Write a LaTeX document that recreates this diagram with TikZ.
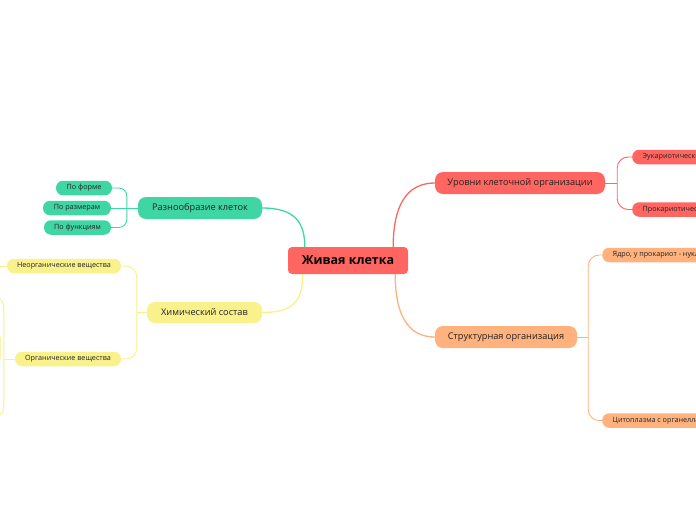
\documentclass[tikz,border=0pt]{standalone}
\usepackage{fontspec}
\setmainfont{Open Sans}
\usetikzlibrary{calc}
\definecolor{cred}{HTML}{FF6662}
\definecolor{cora}{HTML}{FFB27E}
\definecolor{cgrn}{HTML}{40D6A3}
\definecolor{cyel}{HTML}{F9F18C}
\definecolor{ctxt}{HTML}{222222}
\tikzset{
  central/.style={rectangle, rounded corners=4pt, fill=cred, minimum width=120pt, minimum height=27pt,
    inner sep=0pt, text=black, font=\fontsize{12.5}{14}\selectfont\bfseries},
  mainnode/.style={rectangle, rounded corners=8pt, minimum height=22pt, inner sep=0pt,
    text=ctxt, font=\fontsize{9.2}{11}\selectfont},
  subnode/.style={rectangle, rounded corners=7pt, minimum height=14.5pt, inner sep=0pt,
    text=ctxt, font=\fontsize{7.2}{8}\selectfont},
  cutnode/.style={subnode, anchor=west, inner xsep=10.5pt},
  mainline/.style={line width=1.3pt},
  subline/.style={line width=0.9pt, rounded corners=11pt},
}
\begin{document}
\begin{tikzpicture}[x=1pt,y=-1pt]
\useasboundingbox (0,0) rectangle (696,520);
\fill[white] (0,0) rectangle (696,520);
\clip (0,0) rectangle (696,520);

% nodes
\node[central] (c) at (348,260.5) {Живая клетка};
\node[mainnode, fill=cred, minimum width=170pt] (u) at (520,183) {Уровни клеточной организации};
\node[mainnode, fill=cora, minimum width=142pt] (s) at (506,337) {Структурная организация};
\node[mainnode, fill=cgrn, minimum width=124pt] (r) at (200,208) {Разнообразие клеток};
\node[mainnode, fill=cyel, minimum width=115pt, minimum height=21pt] (h) at (204.5,312.5) {Химический состав};

\node[subnode, fill=cgrn, minimum width=56pt] (f1) at (84,188) {По форме};
\node[subnode, fill=cgrn, minimum width=68pt] (f2) at (77,208) {По размерам};
\node[subnode, fill=cgrn, minimum width=67pt] (f3) at (77.5,227.5) {По функциям};

\node[subnode, fill=cyel, minimum width=114pt] (n1) at (64,266) {Неорганические вещества};
\node[subnode, fill=cyel, minimum width=106pt] (n2) at (68,359) {Органические вещества};

\node[cutnode, fill=cred] (e1) at (632,157) {Эукариотические};
\node[cutnode, fill=cred] (e2) at (632,209.5) {Прокариотические};
\node[cutnode, fill=cora] (y1) at (602,255) {Ядро, у прокариот - нуклеоид};
\node[cutnode, fill=cora] (y2) at (602,420.5) {Цитоплазма с органеллами};

\coordinate (o1) at (-12,296);
\coordinate (o2) at (-12,418);
\coordinate (o3) at (-12,330);

% main connectors
\draw[mainline, cgrn] (r.east) .. controls ($(r.east)+(32,0)$) and ($(c.north west)+(17,-25)$) .. ($(c.north west)+(17,0)$);
\draw[mainline, cyel] ($(c.south west)+(15,0)$) .. controls ($(c.south west)+(15,28)$) and ($(h.east)+(30,0)$) .. (h.east);
\draw[mainline, cred] ($(c.north east)+(-15,0)$) .. controls ($(c.north east)+(-15,-50)$) and ($(u.west)+(-22,0)$) .. (u.west);
\draw[mainline, cora] ($(c.south east)+(-13,0)$) .. controls ($(c.south east)+(-13,48)$) and ($(s.west)+(-22,0)$) .. (s.west);

% sub connectors
\draw[subline, cred] (u.east) -- ++(12,0) coordinate (ub);
\draw[subline, cred] (ub) |- (e1.west);
\draw[subline, cred] (ub) |- (e2.west);

\draw[subline, cora] (s.east) -- ++(11,0) coordinate (sb);
\draw[subline, cora] (sb) |- (y1.west);
\draw[subline, cora] (sb) |- (y2.west);

\draw[subline, cgrn] (r.west) -- ++(-11,0) coordinate (gb);
\draw[subline, cgrn, rounded corners=8pt] (gb) |- (f1.east);
\draw[subline, cgrn, rounded corners=8pt] (gb) |- (f3.east);
\draw[subline, cgrn] (gb) -- (f2.east);

\draw[subline, cyel] (h.west) -- ++(-10,0) coordinate (hb);
\draw[subline, cyel] (hb) |- (n1.east);
\draw[subline, cyel] (hb) |- (n2.east);

\draw[subline, cyel] (n1.west) -- ++(-12,0);
\draw[subline, cyel] (n2.west) -- ++(-11,0) coordinate (ob);
\draw[subline, cyel] (ob) |- (o1);
\draw[subline, cyel] (ob) |- (o2);
\draw[subline, cyel] ($(ob)+(-3,0)$) |- (o3);
\end{tikzpicture}
\end{document}
